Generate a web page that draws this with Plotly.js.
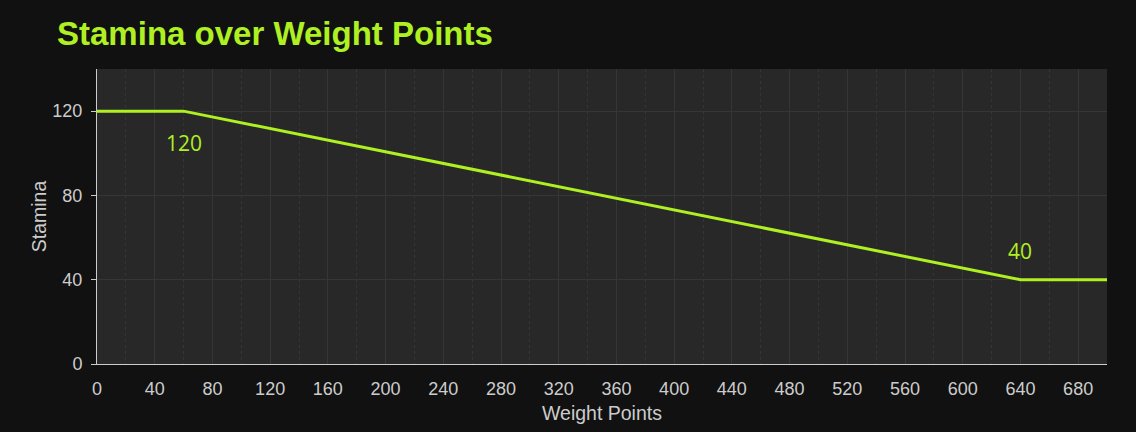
<!DOCTYPE html>
<html><head><meta charset="utf-8">
<script src="https://cdn.plot.ly/plotly-3.0.1.min.js"></script>
<style>html,body{margin:0;padding:0;background:#111111;}#chart{width:1136px;height:432px;}</style>
</head><body><div id="chart"></div>
<script>
const weightPoints = [0, 60, 640, 700];
const stamina = [120, 120, 40, 40];
const labelX = [60, 640];
const labelY = [120, 40];
const labelText = ['120', '40'];
const labelShift = [-32, 29];

const lineColor = '#aef021';
const trace = {x: weightPoints, y: stamina, type: 'scatter', mode: 'lines',
  line: {color: lineColor, width: 3}, hoverinfo: 'x+y', showlegend: false};

const annotations = labelX.map((x, i) => ({
  x: x, y: labelY[i], text: labelText[i], showarrow: false, yshift: labelShift[i],
  font: {family: 'Open Sans, sans-serif', size: 21, color: lineColor}
}));

const layout = {
  width: 1136, height: 432,
  paper_bgcolor: '#111111', plot_bgcolor: '#282828',
  margin: {l: 97, r: 29, t: 69, b: 68},
  title: {text: '<b>Stamina over Weight Points</b>', x: 0.0502, xanchor: 'left', y: 0.923, yanchor: 'middle',
    font: {family: 'Liberation Sans, Arial, sans-serif', size: 33, color: lineColor}},
  font: {family: 'Liberation Sans, Arial, sans-serif', color: '#cccccc'},
  xaxis: {range: [0, 700], dtick: 40, tick0: 0, showline: true, linecolor: '#cccccc', linewidth: 1,
    gridcolor: '#363636', zeroline: false, ticks: '', tickfont: {size: 18, color: '#cccccc'},
    ticklabelstandoff: 8,
    minor: {dtick: 20, showgrid: true, gridcolor: '#363636', griddash: 'dot'},
    title: {text: 'Weight Points', font: {size: 19.5, color: '#cccccc'}, standoff: 8}},
  yaxis: {range: [0, 140], dtick: 40, tick0: 0, showline: true, linecolor: '#cccccc', linewidth: 1,
    gridcolor: '#363636', zeroline: false, ticks: 'outside', ticklen: 5, tickcolor: '#cccccc',
    tickfont: {size: 18, color: '#cccccc'}, ticklabelstandoff: 5,
    title: {text: 'Stamina', font: {size: 19.5, color: '#cccccc'}, standoff: 0}},
  annotations: annotations
};
Plotly.newPlot('chart', [trace], layout, {displayModeBar: false, staticPlot: true});
</script></body></html>
